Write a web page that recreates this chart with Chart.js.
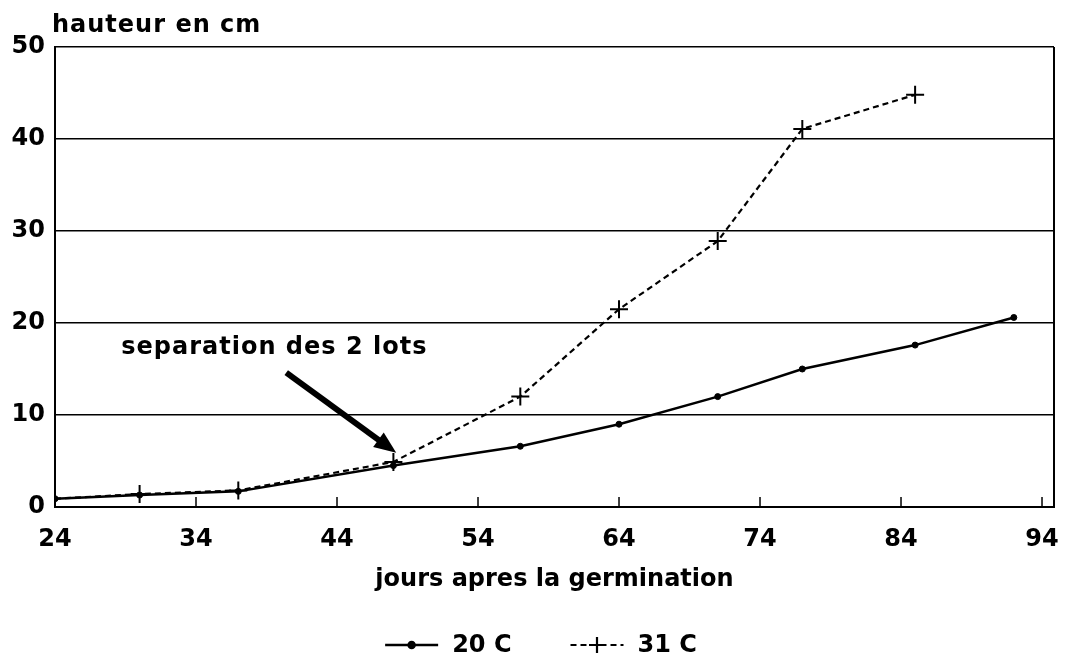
<!DOCTYPE html>
<html>
<head>
<meta charset="utf-8">
<script src="https://cdn.jsdelivr.net/npm/chart.js@4.4.0/dist/chart.umd.min.js"></script>
<style>
  html, body { margin: 0; padding: 0; background: #fff; }
  #wrap { width: 1065px; height: 666px; position: relative; }
</style>
</head>
<body>
<div id="wrap"><canvas id="myChart"></canvas></div>
<script>
// jours apres la germination / hauteur en cm
const jours20 = [24, 30, 37, 48, 57, 64, 71, 77, 85, 92]
const hauteur20 = [0.9, 1.3, 1.7, 4.5, 6.6, 9.0, 12.0, 15.0, 17.6, 20.6]
const jours31 = [24, 30, 37, 48, 57, 64, 71, 77, 85]
const hauteur31 = [0.9, 1.4, 1.8, 4.9, 12.0, 21.5, 28.9, 41.1, 44.8]
const xTicks = [24, 34, 44, 54, 64, 74, 84, 94]
const yTicks = [0, 10, 20, 30, 40, 50]

const police = 'DejaVu Sans'
Chart.defaults.font.family = police
Chart.defaults.font.weight = 'bold'
Chart.defaults.font.size = 24
Chart.defaults.color = '#000'

const ctx = document.getElementById('myChart')

function points(xs, ys) {
    let pts = []
    for (let i = 0; i < xs.length; i++) pts.push({x: xs[i], y: ys[i]})
    return pts
}

// textes, fleche, bordure et legende
const decor = {
    id: 'decor',
    afterDraw(chart) {
        const c = chart.ctx
        const a = chart.chartArea
        const sx = chart.scales.x
        const sy = chart.scales.y
        c.save()
        c.strokeStyle = '#000'
        c.fillStyle = '#000'

        // bordure droite
        c.lineWidth = 2
        c.beginPath()
        c.moveTo(a.right, a.top)
        c.lineTo(a.right, a.bottom)
        c.stroke()

        // petites graduations vers l'interieur
        c.lineWidth = 1.5
        xTicks.forEach(function(t) {
            if (t === xTicks[0]) return
            const px = sx.getPixelForValue(t)
            c.beginPath()
            c.moveTo(px, a.bottom)
            c.lineTo(px, a.bottom - 10)
            c.stroke()
        })

        // fleche "separation des 2 lots"
        const x0 = sx.getPixelForValue(40.4), y0 = sy.getPixelForValue(14.6)
        const x1 = sx.getPixelForValue(48.2), y1 = sy.getPixelForValue(5.9)
        const ang = Math.atan2(y1 - y0, x1 - x0)
        const head = 22
        c.lineWidth = 6
        c.beginPath()
        c.moveTo(x0, y0)
        c.lineTo(x1 - Math.cos(ang) * head * 0.8, y1 - Math.sin(ang) * head * 0.8)
        c.stroke()
        c.beginPath()
        c.moveTo(x1, y1)
        c.lineTo(x1 - head * Math.cos(ang) + 9 * Math.sin(ang), y1 - head * Math.sin(ang) - 9 * Math.cos(ang))
        c.lineTo(x1 - head * Math.cos(ang) - 9 * Math.sin(ang), y1 - head * Math.sin(ang) + 9 * Math.cos(ang))
        c.closePath()
        c.fill()

        c.font = 'bold 24px ' + police
        c.textBaseline = 'middle'
        c.textAlign = 'left'
        c.letterSpacing = '1px'
        c.fillText('separation des 2 lots', sx.getPixelForValue(28.7), sy.getPixelForValue(17.3))

        // titres des axes
        c.textBaseline = 'alphabetic'
        c.fillText('hauteur en cm', 52, 32)
        c.letterSpacing = '0px'
        c.textAlign = 'center'
        c.fillText('jours apres la germination', (a.left + a.right) / 2, 586)

        // legende
        const ligne = 53
        const items = chart.data.datasets.map(function(ds) {
            return {ds: ds, w: c.measureText(ds.label).width}
        })
        let total = 0
        items.forEach(function(it, i) { total += ligne + 14 + it.w + (i > 0 ? 59 : 0) })
        let lx = 541 - total / 2
        const ly = 645
        items.forEach(function(it, i) {
            if (i > 0) lx += 59
            const ds = it.ds
            c.lineWidth = ds.borderWidth
            c.setLineDash(ds.borderDash || [])
            c.beginPath()
            c.moveTo(lx, ly)
            c.lineTo(lx + ligne, ly)
            c.stroke()
            c.setLineDash([])
            Chart.helpers.drawPoint(c, {
                pointStyle: ds.pointStyle,
                radius: ds.legendRadius,
                borderWidth: ds.pointBorderWidth
            }, lx + ligne / 2, ly)
            c.textAlign = 'left'
            c.textBaseline = 'middle'
            c.fillText(ds.label, lx + ligne + 14, ly + 1)
            lx += ligne + 14 + it.w
        })
        c.restore()
    }
}

const data = {
    datasets: [{
        label: '20 C',
        data: points(jours20, hauteur20),
        borderColor: '#000',
        backgroundColor: '#000',
        borderWidth: 2.5,
        pointStyle: 'circle',
        pointRadius: 3,
        pointBorderWidth: 1,
        legendRadius: 3,
        tension: 0,
        order: 1
    }, {
        label: '31 C',
        data: points(jours31, hauteur31),
        borderColor: '#000',
        backgroundColor: '#000',
        borderWidth: 2.2,
        borderDash: [6, 4],
        pointStyle: 'cross',
        pointRadius: [0, 9, 9, 9, 9, 9, 9, 9, 9],
        pointBorderWidth: 2,
        legendRadius: 8,
        tension: 0,
        order: 2
    }]
}

const config = {
    type: 'line',
    data: data,
    options: {
        responsive: true,
        maintainAspectRatio: false,
        animation: false,
        layout: { padding: { left: 0, right: 11, top: 47, bottom: 0 } },
        plugins: {
            legend: { display: false },
            tooltip: { enabled: false }
        },
        scales: {
            x: {
                type: 'linear',
                min: 24,
                max: 94.85,
                afterBuildTicks: function(s) { s.ticks = xTicks.map(function(v) { return {value: v} }) },
                afterFit: function(s) { s.height = 159; s.paddingRight = 0; s.paddingLeft = 0 },
                grid: { display: false, drawTicks: false },
                border: { display: true, color: '#000', width: 2 },
                ticks: { padding: 18, maxRotation: 0, autoSkip: false }
            },
            y: {
                min: 0,
                max: 50,
                afterBuildTicks: function(s) { s.ticks = yTicks.map(function(v) { return {value: v} }) },
                afterFit: function(s) { s.width = 55 },
                grid: { color: '#000', lineWidth: 1.5, drawTicks: false },
                border: { display: true, color: '#000', width: 2 },
                ticks: { padding: 10 }
            }
        }
    },
    plugins: [decor]
}

const myChart = new Chart(ctx, config)
</script>
</body>
</html>
